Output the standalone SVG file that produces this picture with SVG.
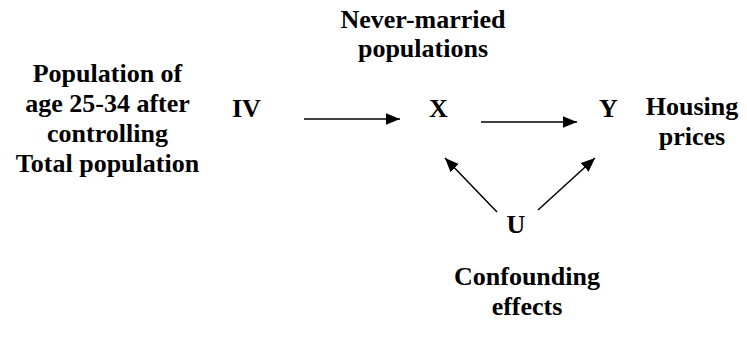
<svg xmlns="http://www.w3.org/2000/svg" width="747" height="338" viewBox="0 0 747 338">
<style>
text{font-family:"Liberation Serif","Times New Roman",serif;font-weight:bold;font-size:26px;fill:#000}
.c{text-anchor:middle}
.e{stroke:#000;stroke-width:1.5;fill:none}
</style>
<defs>
<marker id="ah" markerUnits="userSpaceOnUse" markerWidth="14" markerHeight="12" refX="12" refY="5" orient="auto" viewBox="0 0 12 10">
<path d="M0,0 L12,5 L0,10 Z" fill="#000"/>
</marker>
</defs>
<rect width="747" height="338" fill="#fff"/>
<g id="iv-label"><text class="c" x="107.5" y="82">Population of</text><text class="c" x="107.5" y="112">age 25-34 after</text><text class="c" x="107.5" y="142">controlling</text><text class="c" x="107.5" y="172">Total population</text></g>
<g id="x-label"><text class="c" x="423" y="28">Never-married</text><text class="c" x="423" y="57">populations</text></g>
<g id="iv"><text x="232" y="117">IV</text></g>
<g id="x"><text x="429" y="117">X</text></g>
<g id="y"><text x="599" y="117">Y</text></g>
<g id="y-label"><text class="c" x="692" y="115">Housing</text><text class="c" x="692" y="145">prices</text></g>
<g id="u"><text class="c" x="516" y="233">U</text></g>
<g id="u-label"><text class="c" x="527" y="285">Confounding</text><text class="c" x="527" y="315">effects</text></g>
<g id="connectors">
<line class="e" x1="304" y1="119" x2="400" y2="119" marker-end="url(#ah)"/>
<line class="e" x1="481" y1="122" x2="577" y2="122" marker-end="url(#ah)"/>
<line class="e" x1="497" y1="212" x2="445" y2="158" marker-end="url(#ah)"/>
<line class="e" x1="538" y1="210" x2="595" y2="158" marker-end="url(#ah)"/>
</g>
</svg>
